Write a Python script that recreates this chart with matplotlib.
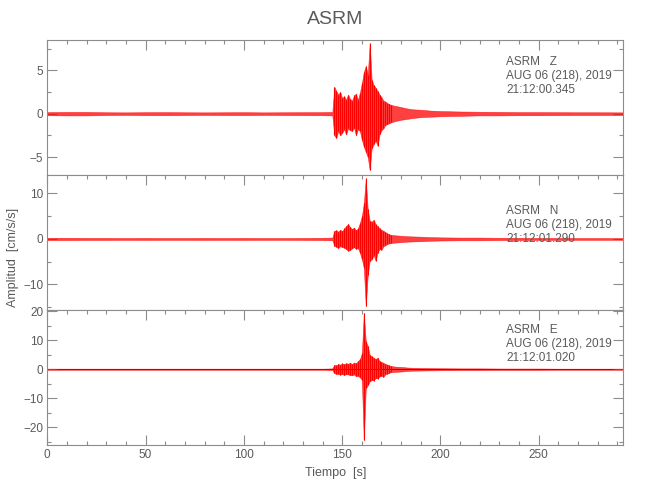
import matplotlib
matplotlib.use('Agg')
import matplotlib.pyplot as plt
from matplotlib.ticker import MultipleLocator

# narrow sans, closer to the IDL vector font than DejaVu
plt.rcParams.update({
    'font.family': ['Liberation Sans', 'DejaVu Sans'],
    'font.size': 8,
})

AXIS_GREY = '#8c8c8c'
TEXT_GREY = '#5a5a5a'
TRACE = '#ff0000'

STATION = 'ASRM'
DATE_LINE = 'AUG 06 (218), 2019'
COMPONENTS = ['Z', 'N', 'E']
START_TIMES = ['21:12:00.345', '21:12:01.290', '21:12:01.020']

# ── envelope of each trace (s, cm/s/s) ─────────────────────────────────
TIME = ([0, 10, 20, 30, 40, 50, 60, 70, 80, 90, 100, 110, 120, 130, 140, 145]
        + list(range(146, 176))
        + [177, 180, 183, 186, 190, 195, 200, 210, 220, 230, 240, 250, 260,
           270, 280, 293])
BURST = slice(16, 46)   # the 1-second samples drawn as individual strokes

Z_HI = ([0.18, 0.2, 0.2, 0.16, 0.15, 0.17, 0.18, 0.16, 0.15, 0.16, 0.17, 0.15,
         0.16, 0.17, 0.18, 0.2]
        + [3.1, 2.6, 2.2, 2.5, 1.8, 2.0, 1.6, 2.2, 1.7, 1.5,
           2.1, 2.3, 1.6, 2.4, 3.5, 4.8, 5.5, 4.5, 8.1, 3.9,
           3.3, 3.0, 2.6, 2.2, 1.9, 1.5, 1.4, 1.2, 1.1, 1.0]
        + [0.9, 0.75, 0.6, 0.5, 0.45, 0.35, 0.3, 0.25, 0.22, 0.2, 0.18, 0.18,
           0.17, 0.16, 0.16, 0.15])
Z_LO = ([-0.18, -0.2, -0.2, -0.16, -0.15, -0.17, -0.18, -0.16, -0.15, -0.16,
         -0.17, -0.15, -0.16, -0.17, -0.18, -0.2]
        + [-2.5, -2.8, -2.0, -2.5, -2.2, -1.8, -2.4, -1.7, -1.9, -2.0,
           -1.6, -2.5, -1.8, -2.0, -3.0, -3.8, -4.4, -5.0, -6.5, -4.0,
           -3.5, -3.1, -3.7, -2.4, -1.9, -1.7, -1.3, -1.2, -1.1, -1.0]
        + [-0.85, -0.7, -0.6, -0.5, -0.4, -0.35, -0.3, -0.25, -0.2, -0.2,
           -0.18, -0.18, -0.17, -0.16, -0.16, -0.15])

N_HI = ([0.25, 0.25, 0.22, 0.22, 0.2, 0.22, 0.2, 0.2, 0.22, 0.2, 0.22, 0.2,
         0.2, 0.22, 0.25, 0.3]
        + [1.8, 1.9, 1.6, 2.0, 1.7, 2.3, 2.8, 3.3, 2.6, 2.2,
           2.5, 1.9, 2.3, 3.5, 5.0, 7.8, 13.3, 6.5, 4.0, 3.8,
           4.2, 3.2, 2.8, 2.3, 2.0, 1.8, 1.5, 1.2, 1.0, 0.9]
        + [0.8, 0.7, 0.6, 0.55, 0.5, 0.4, 0.35, 0.3, 0.3, 0.25, 0.25, 0.22,
           0.22, 0.2, 0.2, 0.2])
N_LO = ([-0.25, -0.25, -0.22, -0.22, -0.2, -0.22, -0.2, -0.2, -0.22, -0.2,
         -0.22, -0.2, -0.2, -0.22, -0.25, -0.3]
        + [-1.5, -1.7, -2.0, -1.6, -1.8, -1.9, -2.2, -2.6, -2.4, -2.1,
           -1.8, -2.2, -2.0, -3.0, -4.5, -6.3, -14.8, -8.0, -4.8, -4.5,
           -3.6, -4.8, -3.0, -2.2, -2.4, -1.6, -1.4, -1.1, -1.0, -0.9]
        + [-0.8, -0.7, -0.6, -0.55, -0.5, -0.4, -0.35, -0.3, -0.3, -0.25,
           -0.25, -0.22, -0.22, -0.2, -0.2, -0.2])

E_HI = ([0.2, 0.2, 0.2, 0.2, 0.2, 0.2, 0.2, 0.2, 0.2, 0.2, 0.2, 0.2,
         0.2, 0.2, 0.2, 0.3]
        + [1.5, 1.3, 1.8, 1.6, 2.0, 1.7, 2.1, 1.9, 2.2, 1.8,
           2.3, 2.0, 2.8, 3.5, 5.5, 19.4, 9.6, 8.0, 5.0, 4.4,
           4.0, 3.5, 4.0, 2.8, 2.5, 2.2, 1.8, 1.6, 1.3, 1.1]
        + [0.9, 0.8, 0.6, 0.5, 0.45, 0.4, 0.35, 0.3, 0.3, 0.25, 0.25, 0.25,
           0.2, 0.2, 0.2, 0.2])
E_LO = ([-0.2, -0.2, -0.2, -0.2, -0.2, -0.2, -0.2, -0.2, -0.2, -0.2, -0.2,
         -0.2, -0.2, -0.2, -0.2, -0.3]
        + [-1.4, -1.6, -1.5, -1.9, -1.6, -2.0, -1.7, -1.8, -2.0, -2.1,
           -1.8, -2.4, -2.2, -2.8, -3.7, -24.5, -6.6, -5.5, -4.2, -3.7,
           -3.9, -3.0, -3.2, -2.5, -2.2, -2.6, -1.7, -1.5, -1.2, -1.0]
        + [-0.9, -0.8, -0.6, -0.5, -0.45, -0.4, -0.35, -0.3, -0.3, -0.25,
           -0.25, -0.25, -0.2, -0.2, -0.2, -0.2])

TRACES_HI = [Z_HI, N_HI, E_HI]
TRACES_LO = [Z_LO, N_LO, E_LO]
YLIMS = [(-7.1, 8.45), (-15.7, 14.0), (-26.2, 20.3)]
Y_MAJOR = [5, 10, 10]
Y_MINOR = [2.5, 5, 5]
LABEL_Y = [0.84, 0.735, 0.855]   # first line of the station block, axes fraction

fig = plt.figure(figsize=(6.5, 5), dpi=100)
left, width = 47.3 / 650, 576.0 / 650
panel_h = 135.0 / 500
bottoms = [1 - 175.3 / 500, 1 - 310.3 / 500, 1 - 445.3 / 500]

axes = []
for i in range(3):
    ax = fig.add_axes([left, bottoms[i], width, panel_h],
                      sharex=axes[0] if axes else None)
    axes.append(ax)

    if i == 2:
        ax.axhline(0, color='black', lw=0.7, zorder=1)
    ax.fill_between(TIME, TRACES_LO[i], TRACES_HI[i], color=TRACE,
                    alpha=0.75, lw=0.4, zorder=2)
    ax.vlines(TIME[BURST], TRACES_LO[i][BURST], TRACES_HI[i][BURST],
              color=TRACE, lw=0.8, zorder=3)

    ax.set_xlim(0, 293)
    ax.set_ylim(*YLIMS[i])
    ax.xaxis.set_major_locator(MultipleLocator(50))
    ax.xaxis.set_minor_locator(MultipleLocator(10))
    ax.yaxis.set_major_locator(MultipleLocator(Y_MAJOR[i]))
    ax.yaxis.set_minor_locator(MultipleLocator(Y_MINOR[i]))

    for s in ax.spines.values():
        s.set_color(AXIS_GREY)
        s.set_linewidth(0.8)
    ax.tick_params(which='both', direction='in', top=True, bottom=(i == 2),
                   left=True, right=True, color=AXIS_GREY,
                   labelcolor=TEXT_GREY, labelsize=8.5, width=0.8)
    ax.tick_params(which='major', length=7.2, pad=3)
    ax.tick_params(which='minor', length=3.2)
    if i < 2:
        ax.tick_params(labelbottom=False)

    lines = [f'{STATION}   {COMPONENTS[i]}', DATE_LINE, START_TIMES[i]]
    for k, line in enumerate(lines):
        ax.text(233.4, LABEL_Y[i] - k * 0.104, line,
                transform=ax.get_xaxis_transform(),
                color=TEXT_GREY, fontsize=8.5, ha='left', va='center')

axes[2].set_xlabel('Tiempo  [s]', color=TEXT_GREY, fontsize=9, labelpad=4)
fig.text(0.02, 0.485, 'Amplitud  [cm/s/s]', rotation=90, color=TEXT_GREY,
         fontsize=9, ha='center', va='center')
fig.text(0.515, 0.96, STATION, color=TEXT_GREY, fontsize=14,
         ha='center', va='center')

fig.savefig('out.png', dpi=100)
